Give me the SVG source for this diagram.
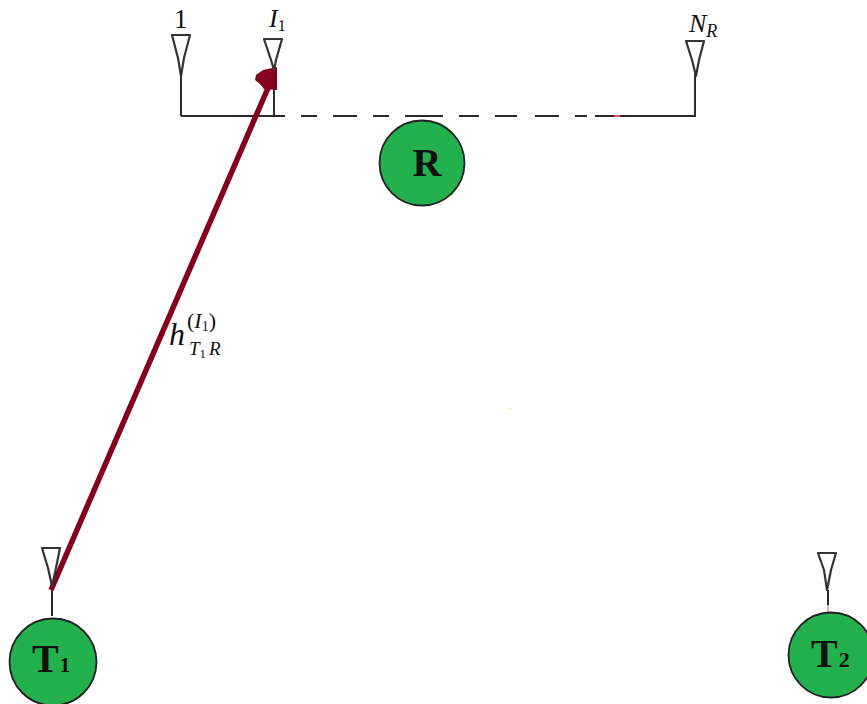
<svg xmlns="http://www.w3.org/2000/svg" width="867" height="704" viewBox="0 0 867 704">
<style>
.ln{fill:none;stroke:#2b2b2b;stroke-width:2}
.ant{fill:#fff;stroke:#333;stroke-width:2.2;stroke-linejoin:round}
.node{fill:#22b14c;stroke:#222;stroke-width:1.8}
.t{font-family:"Liberation Serif",serif;fill:#111}
.b{font-weight:bold;font-size:40px}
.i{font-style:italic}
</style>
<rect width="867" height="704" fill="#fff"/>
<g id="connectors">
<path class="ln" d="M181 116H285M301 116H317M333 116H357M373 116H389M405 116H443M459 116H479M495 116H517M535 116H559M575 116H587M595 116H695V72M181 116V72M274 116V72M52 590V616M828 590V612"/>
<path fill="none" stroke="#85001f" stroke-width="5.5" d="M51 590L268 88"/>
<path fill="#85001f" d="M277 67V90L264 89L260 84L255 80L256 75L263 70Z"/>
<path fill="#e8506a" d="M614 115h6v2h-6z"/>
<path fill="#f4a6a6" d="M827 605h2v7h-2z"/>
<path fill="#e8e070" d="M509 408h2v1h-2z"/>
</g>
<g id="antenna-1"><path class="ant" d="M172 35H190L184 58L181 76L178 58Z"/><text class="t" x="174" y="28" font-size="27">1</text></g>
<g id="antenna-I1"><path class="ant" d="M264 39H282L276 60L274 70L271 60Z"/><text class="t i" x="269" y="27" font-size="26">I<tspan font-size="16" dy="4" font-style="normal">1</tspan></text></g>
<g id="antenna-NR"><path class="ant" d="M686 41H704L699 60L696 76L692 60Z"/><text class="t i" x="689" y="32" font-size="26">N<tspan font-size="18" dy="5">R</tspan></text></g>
<g id="node-R"><circle class="node" cx="422" cy="163" r="42.5"/><text class="t b" x="427" y="176" text-anchor="middle">R</text></g>
<g id="antenna-T1"><path class="ant" d="M42 548H60L56 568L52 586L48 568Z"/></g>
<g id="node-T1"><circle class="node" cx="53" cy="662" r="43.5"/><text class="t b" x="32" y="672">T<tspan font-size="21" dx="1">1</tspan></text></g>
<g id="antenna-T2"><path class="ant" d="M818 553H836L831 570L827 590L824 570Z"/></g>
<g id="node-T2"><circle class="node" cx="831" cy="655" r="42.5"/><text class="t b" x="811" y="667">T<tspan font-size="22" dx="1">2</tspan></text></g>
<g id="label-h"><text class="t i" x="169" y="345" font-size="32">h</text><text class="t" x="187" y="328" font-size="22">(<tspan class="i">I</tspan><tspan font-size="14" dy="3">1</tspan><tspan dy="-3">)</tspan></text><text class="t i" x="189" y="355" font-size="19">T<tspan font-size="13" dy="3" font-style="normal">1</tspan><tspan dy="-3" x="209">R</tspan></text></g>
</svg>
